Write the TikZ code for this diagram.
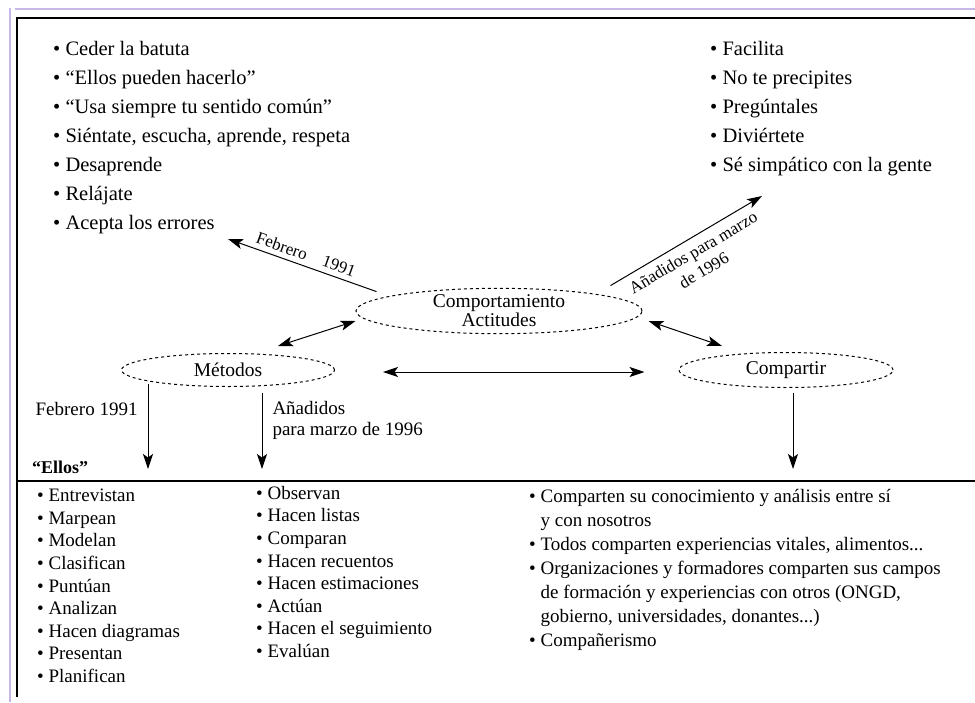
\documentclass[tikz,border=0pt]{standalone}
\usepackage{fontspec}
\setmainfont{Liberation Serif}
\usetikzlibrary{arrows.meta, positioning, shapes.geometric}

\definecolor{framelav}{HTML}{C8B6E4}

\begin{document}
\begin{tikzpicture}[x=1pt, y=-1pt,
    every node/.style={font=\fontsize{19}{23}\selectfont},
    oval/.style={draw, dashed, ellipse, line width=1pt, inner sep=0pt, align=center,
                 font=\fontsize{19.5}{19}\selectfont},
    toplist/.style={align=left, anchor=north west, inner sep=0pt,
                    font=\fontsize{20.5}{29}\selectfont},
    botlist/.style={align=left, anchor=north west, inner sep=0pt,
                    font=\fontsize{19}{22.6}\selectfont},
    sidelist/.style={align=left, anchor=north west, inner sep=0pt,
                    font=\fontsize{19}{24}\selectfont},
    slopelab/.style={font=\fontsize{17}{21}\selectfont, inner sep=2pt, align=center},
    steplab/.style={font=\fontsize{19}{21}\selectfont, inner sep=0pt, align=left},
    arrow/.style={-{Stealth[length=15pt, width=10pt, inset=3.5pt]}, line width=1pt},
    dblarrow/.style={{Stealth[length=15pt, width=10pt, inset=3.5pt]}-{Stealth[length=15pt, width=10pt, inset=3.5pt]}, line width=1pt},
]

\useasboundingbox (0,0) rectangle (975,702);

% ===== FRAME =====
\draw[framelav, line width=2pt] (10,702) -- (10,8);
\draw[framelav, line width=2pt] (15,9) -- (975,9);
\draw[line width=2pt] (17,697) -- (17,18) -- (975,18);
\draw[line width=1.5pt] (17,481) -- (975,481);

% ===== TOP LISTS =====
\node[toplist] (attitudes) at (53,41)
    {\textbullet\ Ceder la batuta\\
     \textbullet\ “Ellos pueden hacerlo”\\
     \textbullet\ “Usa siempre tu sentido común”\\
     \textbullet\ Siéntate, escucha, aprende, respeta\\
     \textbullet\ Desaprende\\
     \textbullet\ Relájate\\
     \textbullet\ Acepta los errores};

\node[toplist] (added) at (710,41)
    {\textbullet\ Facilita\\
     \textbullet\ No te precipites\\
     \textbullet\ Pregúntales\\
     \textbullet\ Diviértete\\
     \textbullet\ Sé simpático con la gente};

% ===== OVALS =====
\node[oval, minimum width=286, minimum height=44] (comport) at (499,311)
    {Comportamiento\\Actitudes};
\node[oval, minimum width=213, minimum height=33] (metodos) at (228,370) {Métodos};
\node[oval, minimum width=214, minimum height=35] (compartir) at (786,370) {Compartir};

% Arrows up to the lists
\coordinate (feb-tip) at (228,239);
\coordinate (mar-tip) at (762,196);
\draw[arrow] ([xshift=-21pt, yshift=3pt]comport.north west)
    -- node[slopelab, sloped, above=3pt] (feb-lab) {Febrero\quad 1991} (feb-tip);
\draw[arrow] ([xshift=10pt, yshift=9pt]comport.north east)
    -- node[slopelab, sloped, below=5pt] (mar-lab) {Añadidos para marzo\\de 1996} (mar-tip);

% Double arrows between ovals
\draw[dblarrow] ([xshift=50pt, yshift=7pt]metodos.north) -- ([yshift=-10pt]comport.west);
\draw[dblarrow] ([xshift=6pt, yshift=-10pt]comport.east) -- ([xshift=-64pt, yshift=6pt]compartir.north);
\draw[dblarrow] ([xshift=48pt, yshift=-2pt]metodos.east) -- ([xshift=-34pt, yshift=-2pt]compartir.west);

% ===== DOWN ARROWS =====
\coordinate (ellos-l) at (148,469);
\coordinate (ellos-r) at (262,469);
\coordinate (share-tip) at (793,469);
\draw[arrow] ([xshift=-80pt, yshift=3.5pt]metodos.south)
    -- node[steplab, pos=0.3, left=10pt] (feb-down) {Febrero 1991} (ellos-l);
\draw[arrow] ([xshift=34pt, yshift=-5.5pt]metodos.south)
    -- node[steplab, pos=0.36, right=10pt] (mar-down) {Añadidos\\para marzo de 1996} (ellos-r);
\draw[arrow] ([xshift=7pt, yshift=-4.5pt]compartir.south) -- (share-tip);

\node[anchor=west, inner sep=0pt, font=\bfseries\fontsize{18}{20}\selectfont] (ellos) at (32,467) {“Ellos”};

% ===== BOTTOM LISTS =====
\node[botlist] (feb-list) at (37,489)
    {\textbullet\ Entrevistan\\
     \textbullet\ Marpean\\
     \textbullet\ Modelan\\
     \textbullet\ Clasifican\\
     \textbullet\ Puntúan\\
     \textbullet\ Analizan\\
     \textbullet\ Hacen diagramas\\
     \textbullet\ Presentan\\
     \textbullet\ Planifican};

\node[botlist] (mar-list) at (256,486)
    {\textbullet\ Observan\\
     \textbullet\ Hacen listas\\
     \textbullet\ Comparan\\
     \textbullet\ Hacen recuentos\\
     \textbullet\ Hacen estimaciones\\
     \textbullet\ Actúan\\
     \textbullet\ Hacen el seguimiento\\
     \textbullet\ Evalúan};

\node[sidelist] (share-list) at (529,489)
    {\textbullet\ Comparten su conocimiento y análisis entre sí\\
     \phantom{\textbullet}\ y con nosotros\\
     \textbullet\ Todos comparten experiencias vitales, alimentos...\\
     \textbullet\ Organizaciones y formadores comparten sus campos\\
     \phantom{\textbullet}\ de formación y experiencias con otros (ONGD,\\
     \phantom{\textbullet}\ gobierno, universidades, donantes...)\\
     \textbullet\ Compañerismo};

\end{tikzpicture}
\end{document}
